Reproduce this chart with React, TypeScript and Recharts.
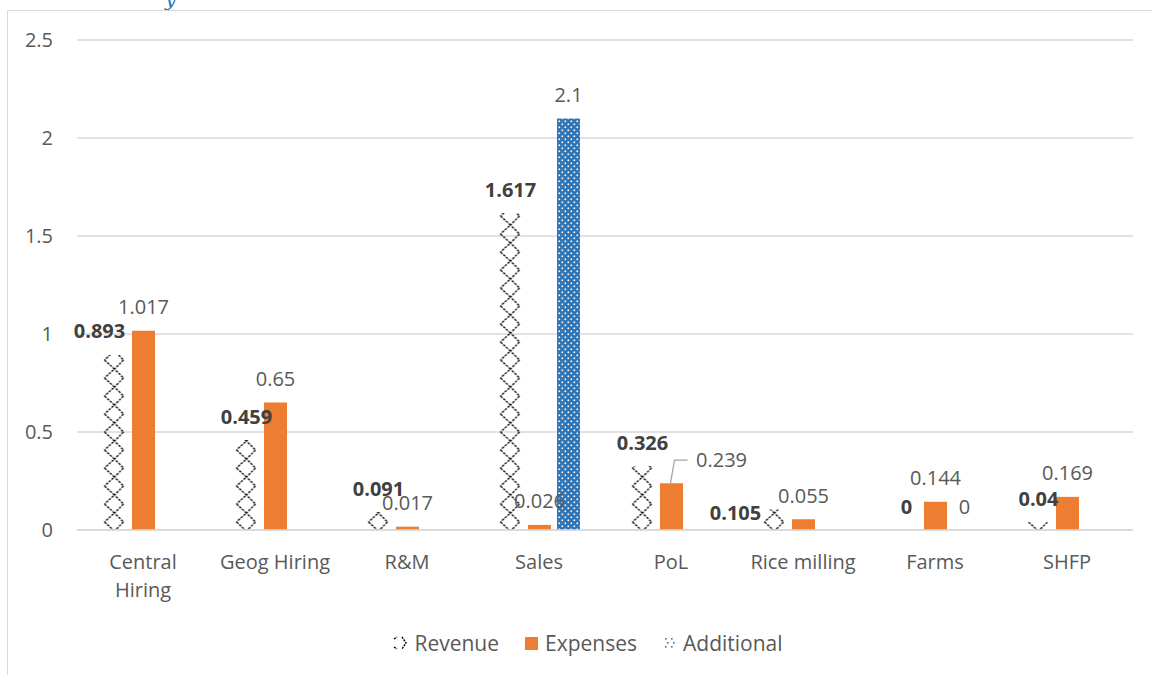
import { BarChart, Bar, XAxis, YAxis, CartesianGrid, Legend, LabelList } from 'recharts';

const categories = ['Central Hiring', 'Geog Hiring', 'R&M', 'Sales', 'PoL', 'Rice milling', 'Farms', 'SHFP'];
const revenue = [0.893, 0.459, 0.091, 1.617, 0.326, 0.105, 0, 0.04];
const expenses = [1.017, 0.65, 0.017, 0.026, 0.239, 0.055, 0.144, 0.169];
const additional = [null, null, null, 2.1, null, null, 0, null];
const yTicks = [0, 0.5, 1, 1.5, 2, 2.5];

const FONT = '"Open Sans", sans-serif';
const GREY = '#595959';
const ORANGE = '#ED7D31';
const BLUE = '#2E75B6';
const BAR = 23;
const GAP = 6;

const chartData = categories.map((name, i) => ({
  name,
  revenue: revenue[i],
  expenses: expenses[i],
  additional: additional[i],
}));

// manual nudges for a few labels, like the ones dragged around in the original
const shifts: Record<string, Record<number, [number, number]>> = {
  revenue: { 0: [-15, 0], 5: [-39, 27], 7: [0, 7] },
  expenses: { 4: [50, 0] },
  additional: {},
};

const valueText = (cx: number, cy: number, value: number, bold: boolean, key: string) => (
  <text
    key={key}
    x={cx}
    y={cy}
    textAnchor="middle"
    dominantBaseline="central"
    fontFamily={FONT}
    fontSize={20}
    fontWeight={bold ? 700 : 400}
    fill={bold ? '#404040' : GREY}
  >
    {String(value)}
  </text>
);

const makeLabel = (key: string, bold: boolean) => (props: any) => {
  const { x, y, width, height, value, index } = props;
  if (value === null || value === undefined) return null;
  const [dx, dy] = shifts[key][index] || [0, 0];
  const cx = Number(x) + Number(width) / 2;
  const top = Number(y);
  const base = top + Number(height);
  const extra: any[] = [];
  // zero-height neighbours get no label from recharts, so the expenses bar draws them
  if (key === 'expenses') {
    if (revenue[index] === 0) extra.push(valueText(cx - BAR - GAP, base - 24, 0, true, 'r0'));
    if (additional[index] === 0) extra.push(valueText(cx + BAR + GAP, base - 24, 0, false, 'a0'));
  }
  return (
    <g>
      {key === 'expenses' && index === 4 && (
        <polyline
          points={`${cx - 1},${top} ${cx + 3},${top - 23} ${cx + 16},${top - 23}`}
          fill="none"
          stroke="#A6A6A6"
          strokeWidth={1.3}
        />
      )}
      {valueText(cx + dx, top - 24 + dy, value, bold, 'v')}
      {extra}
    </g>
  );
};

const CategoryTick = ({ x, y, payload }: any) => {
  const label: string = payload.value;
  const lines = label.length > 12 ? label.split(' ') : [label];
  return (
    <text x={x} y={y + 37} textAnchor="middle" fontFamily={FONT} fontSize={20} fill={GREY}>
      {lines.map((l, i) => (
        <tspan key={l} x={x} dy={i === 0 ? 0 : 28}>
          {l}
        </tspan>
      ))}
    </text>
  );
};

const renderLegend = () => (
  <div
    style={{
      height: 30,
      display: 'flex',
      justifyContent: 'center',
      alignItems: 'center',
      fontFamily: FONT,
      fontSize: 21,
      color: GREY,
    }}
  >
    <span style={{ display: 'flex', alignItems: 'center', marginRight: 26 }}>
      <svg width={15} height={14} style={{ marginRight: 6 }}>
        <path d="M1,3 L4,1 M9,1 L13,7 L9,13 M1,11 L4,13" fill="none" stroke="#000" strokeWidth={1.4} strokeDasharray="2 1" />
      </svg>
      Revenue
    </span>
    <span style={{ display: 'flex', alignItems: 'center', marginRight: 26 }}>
      <span style={{ width: 13, height: 13, background: ORANGE, marginRight: 7 }} />
      Expenses
    </span>
    <span style={{ display: 'flex', alignItems: 'center' }}>
      <svg width={13} height={13} style={{ marginRight: 7 }}>
        {[1, 5, 9].map((cy) =>
          [2, 8].map((cx) => <rect key={`${cx}-${cy}`} x={cx + (cy === 5 ? 2 : 0)} y={cy} width={1.6} height={1.6} fill={BLUE} />)
        )}
      </svg>
      Additional
    </span>
  </div>
);

export default function App() {
  return (
    <div style={{ position: 'absolute', left: 0, top: 0, width: 1152, height: 675, background: '#fff', overflow: 'hidden' }}>
      <div
        style={{
          position: 'absolute',
          left: 7,
          top: 10,
          width: 1200,
          height: 700,
          borderLeft: '1.5px solid #D9D9D9',
          borderTop: '1.5px solid #D9D9D9',
        }}
      />
      <div
        style={{
          position: 'absolute',
          left: 165,
          top: -12,
          lineHeight: '22px',
          fontFamily: '"DejaVu Serif", serif',
          fontStyle: 'italic',
          fontSize: 20,
          color: BLUE,
        }}
      >
        y
      </div>
      <BarChart
        width={1152}
        height={675}
        data={chartData}
        margin={{ top: 40, right: 19, left: 0, bottom: 55 }}
        barSize={BAR}
        barGap={GAP}
      >
        <defs>
          <pattern id="zigzag" patternUnits="userSpaceOnUse" x={102.5} y={0} width={132} height={18}>
            <path
              d="M2,0 L12,9 L2,18 M21,0 L12,9 L21,18"
              fill="none"
              stroke="#000"
              strokeWidth={1.3}
              strokeDasharray="2.5 1.2"
            />
          </pattern>
          <pattern id="dots" patternUnits="userSpaceOnUse" width={6} height={6}>
            <rect width={6} height={6} fill={BLUE} />
            <rect x={0.5} y={0.5} width={1.6} height={1.6} fill="#fff" />
            <rect x={3.5} y={3.5} width={1.6} height={1.6} fill="#fff" />
          </pattern>
        </defs>
        <CartesianGrid vertical={false} stroke="#D9D9D9" strokeWidth={1.3} />
        <XAxis
          dataKey="name"
          axisLine={{ stroke: '#D9D9D9', strokeWidth: 1.3 }}
          tickLine={false}
          tickSize={0}
          height={60}
          interval={0}
          tick={<CategoryTick />}
        />
        <YAxis
          domain={[0, 2.5]}
          ticks={yTicks}
          axisLine={false}
          tickLine={false}
          tickSize={0}
          tickMargin={24}
          width={77}
          tick={{ fill: GREY, fontSize: 20, fontFamily: FONT }}
        />
        <Legend content={renderLegend} wrapperStyle={{ top: 628, bottom: 'auto', left: 12, width: 1152 }} />
        <Bar dataKey="revenue" name="Revenue" fill="url(#zigzag)" isAnimationActive={false}>
          <LabelList dataKey="revenue" content={makeLabel('revenue', true)} />
        </Bar>
        <Bar dataKey="expenses" name="Expenses" fill={ORANGE} isAnimationActive={false}>
          <LabelList dataKey="expenses" content={makeLabel('expenses', false)} />
        </Bar>
        <Bar dataKey="additional" name="Additional" fill="url(#dots)" isAnimationActive={false}>
          <LabelList dataKey="additional" content={makeLabel('additional', false)} />
        </Bar>
      </BarChart>
    </div>
  );
}
